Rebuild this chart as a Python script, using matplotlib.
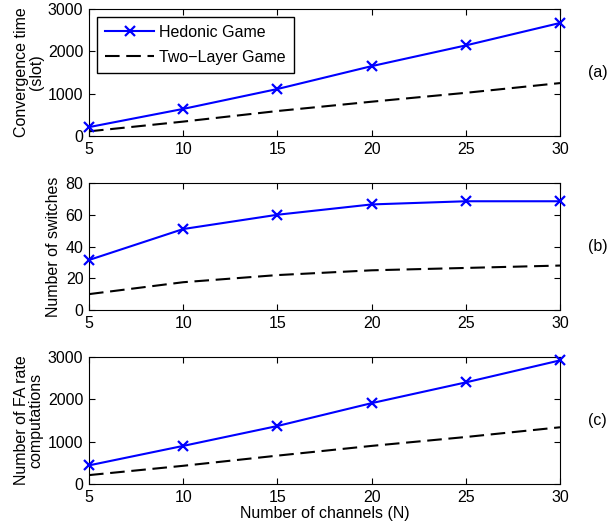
import matplotlib
matplotlib.use("Agg")
import matplotlib.pyplot as plt

plt.rcParams['font.family'] = ['Liberation Sans', 'DejaVu Sans']
plt.rcParams['font.size'] = 11.5

channels = [5, 10, 15, 20, 25, 30]

conv_hedonic = [210, 640, 1110, 1650, 2140, 2670]
conv_twolayer = [110, 340, 590, 810, 1020, 1250]

sw_hedonic = [31.5, 51, 60, 66.5, 68.5, 68.5]
sw_twolayer = [10, 17.5, 22, 25, 26.5, 28]

fa_hedonic = [440, 900, 1370, 1910, 2400, 2920]
fa_twolayer = [210, 430, 670, 900, 1110, 1340]

fig = plt.figure(figsize=(6.08, 5.29), dpi=100)

# axes boxes in pixels (top, bottom)
left, width = 89 / 608, (560 - 89) / 608
boxes = [(9, 136), (183, 310), (357, 484)]
panels = [
    (conv_hedonic, conv_twolayer, [0, 3000], [0, 1000, 2000, 3000], 'Convergence time\n(slot)', '(a)'),
    (sw_hedonic, sw_twolayer, [0, 80], [0, 20, 40, 60, 80], 'Number of switches', '(b)'),
    (fa_hedonic, fa_twolayer, [0, 3000], [0, 1000, 2000, 3000], 'Number of FA rate\ncomputations', '(c)'),
]

for i, ((top, bot), (hed, two, ylim, yt, ylab, tag)) in enumerate(zip(boxes, panels)):
    ax = fig.add_axes([left, 1 - bot / 529, width, (bot - top) / 529])
    ax.plot(channels, hed, color='blue', lw=1.5, marker='x', ms=7, mew=1.6, label='Hedonic Game',
            clip_on=False, zorder=3)
    ax.plot(channels, two, color='black', lw=1.5, ls=(0, (7, 3.2)), label='Two\u2212Layer Game')
    ax.set_xlim(5, 30)
    ax.set_ylim(*ylim)
    ax.set_xticks(channels)
    ax.set_yticks(yt)
    ax.tick_params(direction='in', top=True, right=True, length=4, pad=4)
    ax.set_ylabel(ylab, linespacing=1.0, labelpad=3)
    ax.text(1.06, 0.5, tag, transform=ax.transAxes, va='center', ha='left')
    if i == 0:
        leg = ax.legend(loc='upper left', fancybox=False, edgecolor='black', framealpha=1,
                        handlelength=3.1, handletextpad=0.3, borderpad=0.5,
                        labelspacing=0.6, borderaxespad=0.5)
        leg.get_frame().set_linewidth(1.0)
    if i == 2:
        ax.set_xlabel('Number of channels (N)', labelpad=1)

fig.savefig('out.png', dpi=100)
